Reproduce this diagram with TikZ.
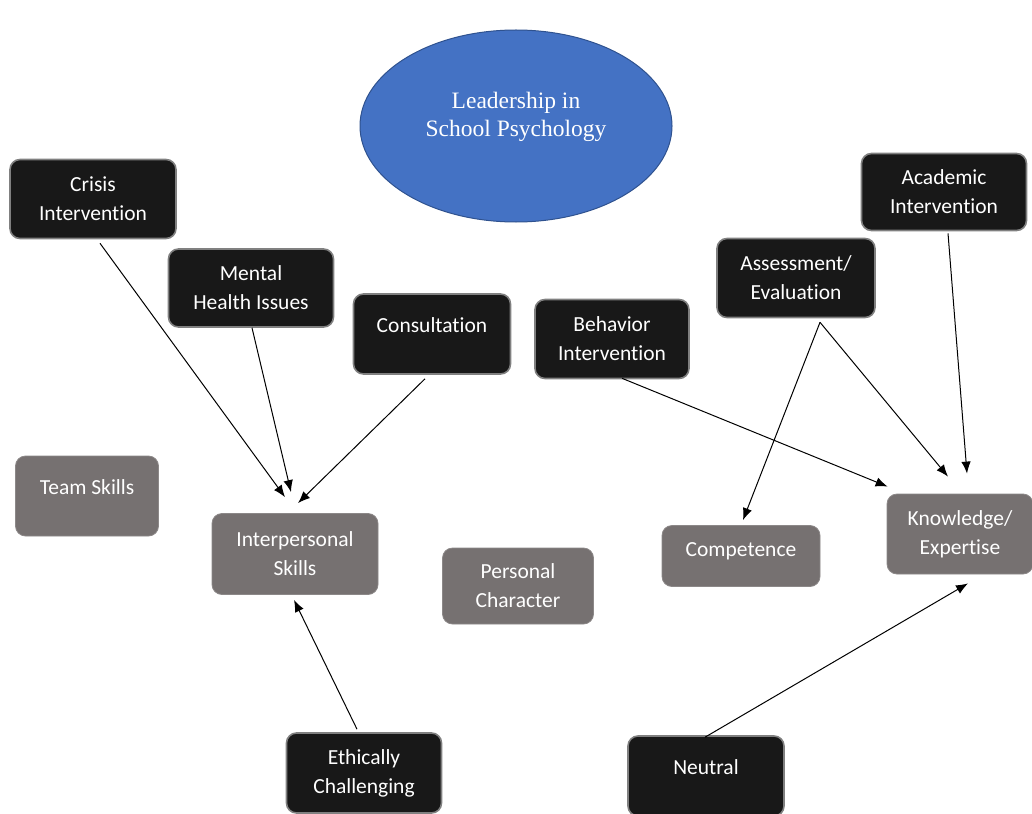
\documentclass[tikz,border=0pt]{standalone}
\usepackage{fontspec}
\setmainfont{Carlito}[Ligatures=NoCommon]
\newfontfamily\ttlfont{Liberation Serif}
\usetikzlibrary{arrows.meta,shapes.geometric}
\definecolor{topicblue}{HTML}{4472C4}
\definecolor{topicedge}{HTML}{2F528F}
\definecolor{darkfill}{HTML}{181818}
\definecolor{darkedge}{HTML}{808080}
\definecolor{greyfill}{HTML}{767171}
\definecolor{greyedge}{HTML}{8C8888}

\tikzset{
  every box/.style={rounded corners=10pt, inner sep=0pt, align=center, text=white,
    font=\fontsize{21.5}{29}\selectfont},
  dark/.style={every box, fill=darkfill, draw=darkedge, line width=1.6pt},
  grey/.style={every box, fill=greyfill, draw=greyedge, line width=0.8pt},
  lift/.style={text depth=18pt},
}

\begin{document}
\begin{tikzpicture}[x=1pt, y=-1pt, >={Latex[length=12pt,width=9.5pt]}, line width=1pt]
\useasboundingbox (0,0) rectangle (1032,813);

% central topic
\node [ellipse, fill=topicblue, draw=topicedge, line width=1pt,
  minimum width=312pt, minimum height=192pt] (topic) at (516,126) {};
\node [align=center, text=white, font=\ttlfont\fontsize{23.5}{27.5}\selectfont]
  (topic-text) at (516,117) {Leadership in\\School Psychology};

% source boxes
\foreach \n/\x/\y/\w/\h/\t in {
    crisis/93/197/166/79/{Crisis\\Intervention},
    mental/251/286/165/78/{Mental\\Health Issues},
    academic/944/190/165/77/{Academic\\Intervention},
    assess/796/276/158/79/{Assessment/\\Evaluation},
    behavior/612/337/154/79/{Behavior\\Intervention},
    ethic/364/771/155/80/{Ethically\\Challenging}}
  \node [dark, minimum width=\w pt, minimum height=\h pt] (\n) at (\x,\y+2) {\t};

\foreach \n/\x/\y/\w/\h/\t in {
    consult/432/334/157/80/{Consultation},
    neutral/706/776/156/80/{Neutral}}
  \node [dark, lift, minimum width=\w pt, minimum height=\h pt] (\n) at (\x,\y) {\t};

% skill boxes
\foreach \n/\x/\y/\w/\h/\t in {
    inter/295/552/166/81/{Interpersonal\\Skills},
    personal/518/584/151/76/{Personal\\Character},
    knowl/960/532/146/80/{Knowledge/\\Expertise}}
  \node [grey, minimum width=\w pt, minimum height=\h pt] (\n) at (\x,\y+2) {\t};

\node [grey, lift, minimum width=143pt, minimum height=80pt] (team) at (87,496) {Team Skills};
\node [grey, text depth=12pt, minimum width=158pt, minimum height=61pt] (compet) at (741,556) {Competence};

% connectors
\draw [->] ([xshift=7pt,yshift=-4pt]crisis.south) -- ([xshift=-10pt,yshift=16pt]inter.north);
\draw [->] ([xshift=1pt,yshift=0pt]mental.south) -- ([xshift=-4pt,yshift=21pt]inter.north);
\draw [->] ([xshift=-7pt,yshift=-4pt]consult.south) -- ([xshift=3pt,yshift=10pt]inter.north);
\draw [->] ([xshift=-7pt,yshift=3pt]ethic.north) -- ([xshift=-1pt,yshift=-5pt]inter.south);
\draw [->] ([xshift=10pt,yshift=1pt]behavior.south) -- ([xshift=1pt,yshift=7pt]knowl.north west);
\draw [->] ([xshift=24pt,yshift=-4pt]assess.south) -- ([xshift=2pt,yshift=5pt]compet.north);
\draw [->] ([xshift=24pt,yshift=-4pt]assess.south) -- ([xshift=-12pt,yshift=17pt]knowl.north);
\draw [->] ([xshift=4pt,yshift=-2pt]academic.south) -- ([xshift=7pt,yshift=20pt]knowl.north);
\draw [->] ([xshift=-1pt,yshift=-2pt]neutral.north) -- ([xshift=8pt,yshift=-9pt]knowl.south);
\end{tikzpicture}
\end{document}
